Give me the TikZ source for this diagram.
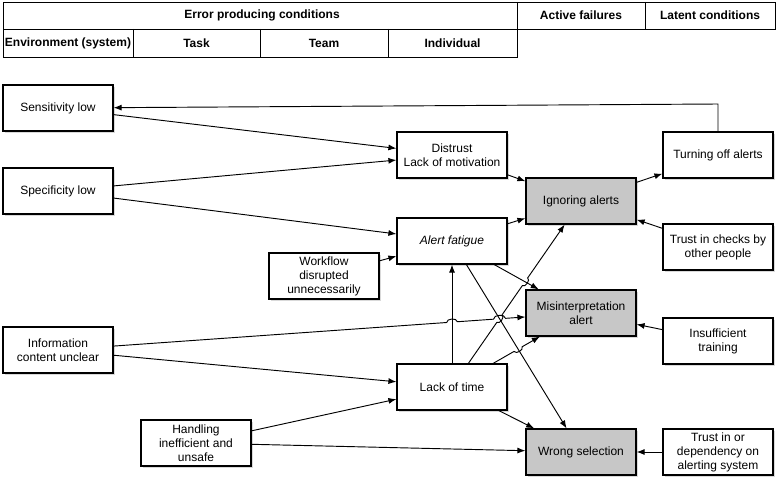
\documentclass[tikz,border=0pt]{standalone}
\usepackage{fontspec}
\setmainfont{Liberation Sans}
\usetikzlibrary{calc, intersections, shadows, arrows.meta}

\tikzset{
  box/.style={draw, line width=0.9pt, fill=white, minimum width=82.5pt, minimum height=34.5pt,
    align=center, inner sep=2pt, font=\fontsize{9}{10.5}\selectfont,
    drop shadow={shadow xshift=1.8pt, shadow yshift=-1.8pt, opacity=0.3}},
  failbox/.style={box, fill=black!22},
  conn/.style={->, line width=0.7pt},
  head/.style={font=\fontsize{9}{10.5}\selectfont\bfseries},
}

\begin{document}
\begin{tikzpicture}[x=0.75pt, y=-0.75pt, >={Latex[length=6pt,width=4.5pt]}]
  \useasboundingbox (0,0) rectangle (778,485);

  % header table
  \draw[line width=0.7pt] (3,2) rectangle (775,29);
  \draw[line width=0.7pt] (3,29) rectangle (517,57);
  \draw[line width=0.7pt] (517,2) -- (517,29);
  \draw[line width=0.7pt] (645,2) -- (645,29);
  \draw[line width=0.7pt] (133,29) -- (133,57);
  \draw[line width=0.7pt] (260,29) -- (260,57);
  \draw[line width=0.7pt] (388,29) -- (388,57);

  \node[head] (hepc) at (262,15.5) {Error producing conditions};
  \node[head] (hact) at (581,15.5) {Active failures};
  \node[head] (hlat) at (710,15.5) {Latent conditions};
  \node[head] (henv) at (68,43) {Environment (system)};
  \node[head] (htask) at (196.5,43) {Task};
  \node[head] (hteam) at (324,43) {Team};
  \node[head] (hind) at (452.5,43) {Individual};

  % conditions (left)
  \node[box] (sens) at (58,108) {Sensitivity low};
  \node[box] (spec) at (58,191) {Specificity low};
  \node[box] (info) at (58,350) {Information\\content unclear};
  \node[box] (hand) at (196,443) {Handling\\inefficient and\\unsafe};
  \node[box] (work) at (324,276) {Workflow\\disrupted\\unnecessarily};
  % individual
  \node[box] (distr) at (452,155) {Distrust\\Lack of motivation};
  \node[box] (fatig) at (452,241) {\itshape Alert fatigue};
  \node[box] (lack) at (452,387) {Lack of time};
  % active failures
  \node[failbox] (ign) at (581,201) {Ignoring alerts};
  \node[failbox] (mis) at (581,313) {Misinterpretation\\alert};
  \node[failbox] (wrong) at (581,452) {Wrong selection};
  % latent conditions
  \node[box] (turn) at (718,155) {Turning off alerts};
  \node[box] (chk) at (718,247) {Trust in checks by\\other people};
  \node[box] (train) at (718,341) {Insufficient\\training};
  \node[box] (dep) at (718,452) {Trust in or\\dependency on\\alerting system};

  \coordinate (top) at (718,104); % feedback corner

  % plain connectors
  \draw[conn] (sens) -- (distr);
  \draw[conn] (spec) -- (distr);
  \draw[conn] (spec) -- (fatig);
  \draw[conn] (work) -- (fatig);
  \draw[conn] (distr) -- (ign);
  \draw[conn] (fatig) -- (ign);
  \draw[conn] (ign) -- (turn);
  \draw[conn] (chk) -- (ign);
  \draw[conn] (lack) -- (fatig);
  \draw[conn] (fatig) -- (wrong);
  \draw[conn] (fatig) -- (mis);
  \draw[conn] (info) -- (lack);
  \draw[conn] (hand) -- (lack);
  \draw[conn] (hand) -- (wrong);
  \draw[conn] (lack) -- (wrong);
  \draw[conn] (train) -- (mis);
  \draw[conn] (dep) -- (wrong);
  % feedback to sensitivity
  \draw[conn] (turn) -- (top) -- (sens);

  % crossings
  \path[name path=pup] (lack) -- (fatig);
  \path[name path=pfw] (fatig) -- (wrong);
  \path[name path=pfm] (fatig) -- (mis);
  \path[name path=pim] (info) -- (mis);
  \path[name path=pli] (lack) -- (ign);
  \path[name path=plm] (lack) -- (mis);
  \path[name intersections={of=pim and pup, by=j1}];
  \path[name intersections={of=pim and pfw, by=j2}];
  \path[name intersections={of=pli and pfw, by=j3}];
  \path[name intersections={of=pli and pfm, by=j4}];
  \path[name intersections={of=plm and pfw, by=j5}];

  % connectors with hops
  \draw[conn] (info) -- ($(j1)!4pt!(info)$) to[bend left=90] ($(j1)!4pt!(mis)$)
    -- ($(j2)!4.5pt!(info)$) to[bend left=90] ($(j2)!4.5pt!(mis)$) -- (mis);
  \draw[conn] (lack) -- ($(j3)!3.5pt!(lack)$) to[bend right=90] ($(j3)!3.5pt!(ign)$)
    -- ($(j4)!3.5pt!(lack)$) to[bend right=90] ($(j4)!3.5pt!(ign)$) -- (ign);
  \draw[conn] (lack) -- ($(j5)!3.5pt!(lack)$) to[bend right=90] ($(j5)!3.5pt!(mis)$) -- (mis);
\end{tikzpicture}
\end{document}
